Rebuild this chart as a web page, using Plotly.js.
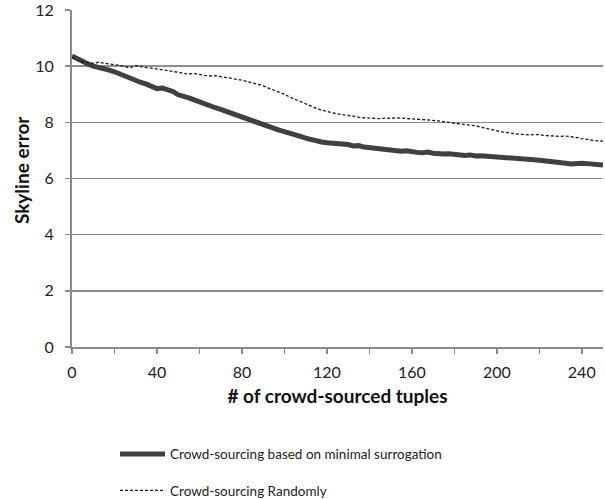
<!DOCTYPE html>
<html>
<head>
<meta charset="utf-8">
<script src="https://cdn.plot.ly/plotly-3.0.1.min.js"></script>
<style>html,body{margin:0;padding:0;background:#fff;}#chart{width:605px;height:499px;}</style>
</head>
<body>
<div id="chart"></div>
<script>
const xVals = [0,2.5,5,7.5,10,12.5,15,17.5,20,22.5,25,27.5,30,32.5,35,37.5,40,42.5,45,47.5,50,52.5,55,57.5,60,62.5,65,67.5,70,72.5,75,77.5,80,82.5,85,87.5,90,92.5,95,97.5,100,102.5,105,107.5,110,112.5,115,117.5,120,122.5,125,127.5,130,132.5,135,137.5,140,142.5,145,147.5,150,152.5,155,157.5,160,162.5,165,167.5,170,172.5,175,177.5,180,182.5,185,187.5,190,192.5,195,197.5,200,202.5,205,207.5,210,212.5,215,217.5,220,222.5,225,227.5,230,232.5,235,237.5,240,242.5,245,247.5,250];
const minimalSurrogation = [10.36,10.25,10.15,10.08,10.0,9.96,9.93,9.86,9.8,9.72,9.62,9.55,9.5,9.42,9.36,9.27,9.2,9.22,9.16,9.1,8.98,8.94,8.87,8.8,8.72,8.66,8.6,8.52,8.46,8.39,8.32,8.26,8.2,8.12,8.06,7.98,7.92,7.85,7.8,7.72,7.67,7.6,7.56,7.5,7.44,7.38,7.33,7.3,7.27,7.26,7.24,7.2,7.21,7.16,7.17,7.12,7.1,7.06,7.07,7.02,7.03,6.98,6.97,6.99,6.95,6.93,6.92,6.94,6.9,6.87,6.87,6.88,6.85,6.83,6.82,6.84,6.8,6.81,6.8,6.78,6.78,6.76,6.75,6.73,6.72,6.7,6.68,6.67,6.65,6.62,6.6,6.59,6.57,6.54,6.52,6.55,6.54,6.53,6.52,6.51,6.48];
const randomly = [10.32,10.22,10.15,10.12,10.1,10.14,10.12,10.08,10.05,10.03,9.98,9.95,10.02,9.98,9.95,9.93,9.9,9.88,9.85,9.8,9.78,9.75,9.72,9.74,9.7,9.67,9.65,9.66,9.63,9.6,9.56,9.53,9.5,9.45,9.4,9.36,9.3,9.22,9.15,9.08,9.0,8.9,8.82,8.73,8.65,8.57,8.5,8.44,8.38,8.34,8.3,8.28,8.25,8.22,8.18,8.16,8.15,8.14,8.13,8.15,8.14,8.16,8.15,8.13,8.12,8.11,8.1,8.09,8.07,8.05,8.02,7.99,7.97,7.95,7.92,7.9,7.88,7.83,7.78,7.74,7.7,7.66,7.63,7.6,7.58,7.57,7.55,7.56,7.56,7.53,7.52,7.5,7.5,7.51,7.49,7.46,7.42,7.38,7.36,7.34,7.33];
const xTickVals = [0,20,40,60,80,100,120,140,160,180,200,220,240];
const xTickText = ["0","","40","","80","","120","","160","","200","","240"];
const yTickVals = [0,2,4,6,8,10,12];
const seriesNames = ["Crowd-sourcing based on minimal surrogation","Crowd-sourcing Randomly"];
const xTitle = "# of crowd-sourced tuples";
const yTitle = "Skyline error";

const font = "Lato, 'Open Sans', sans-serif";
const traces = [
  {x: xVals, y: minimalSurrogation, name: seriesNames[0], mode: "lines", legendgroup: "a",
   line: {color: "#404040", width: 5}},
  {x: xVals, y: randomly, name: seriesNames[1], mode: "lines", legendgroup: "b",
   line: {color: "#1a1a1a", width: 1.3, dash: "3px,2px"}}
];
const layout = {
  width: 605, height: 499,
  margin: {l: 72, r: 2, t: 10, b: 152, autoexpand: false},
  paper_bgcolor: "#fff", plot_bgcolor: "#fff",
  font: {family: font, size: 16, color: "#222"},
  showlegend: true,
  legend: {x: 0.081, xanchor: "left", xref: "paper", y: 0.121, yref: "container", yanchor: "top",
           orientation: "v", traceorder: "grouped", tracegroupgap: 16, itemwidth: 45,
           font: {size: 13.5, color: "#222"}, bgcolor: "rgba(0,0,0,0)"},
  xaxis: {range: [0, 250], tickmode: "array", tickvals: xTickVals, ticktext: xTickText,
          showgrid: false, zeroline: false, showline: true, linecolor: "#8a8a8a", linewidth: 2,
          ticks: "outside", ticklen: 5, tickwidth: 1.5, tickcolor: "#8a8a8a",
          ticklabelstandoff: 5, ticklabeloverflow: "allow",
          tickfont: {size: 16, color: "#222"},
          title: {text: xTitle, font: {size: 19, color: "#111", weight: "bold"}, standoff: 9}},
  yaxis: {range: [0, 12], tickmode: "array", tickvals: yTickVals,
          showgrid: true, gridcolor: "#8f8f8f", gridwidth: 1.5, zeroline: false,
          showline: true, linecolor: "#8a8a8a", linewidth: 2,
          ticks: "outside", ticklen: 5, tickwidth: 1.5, tickcolor: "#8a8a8a",
          ticklabelstandoff: 8, ticklabeloverflow: "allow",
          tickfont: {size: 16, color: "#222"}},
  annotations: [
    {text: "<b>" + yTitle + "</b>", textangle: -90, xref: "paper", yref: "paper",
     x: -0.096, y: 0.525, xanchor: "center", yanchor: "middle", showarrow: false,
     font: {size: 19, color: "#111"}}
  ]
};
Plotly.newPlot("chart", traces, layout, {displayModeBar: false, staticPlot: true});
</script>
</body>
</html>
